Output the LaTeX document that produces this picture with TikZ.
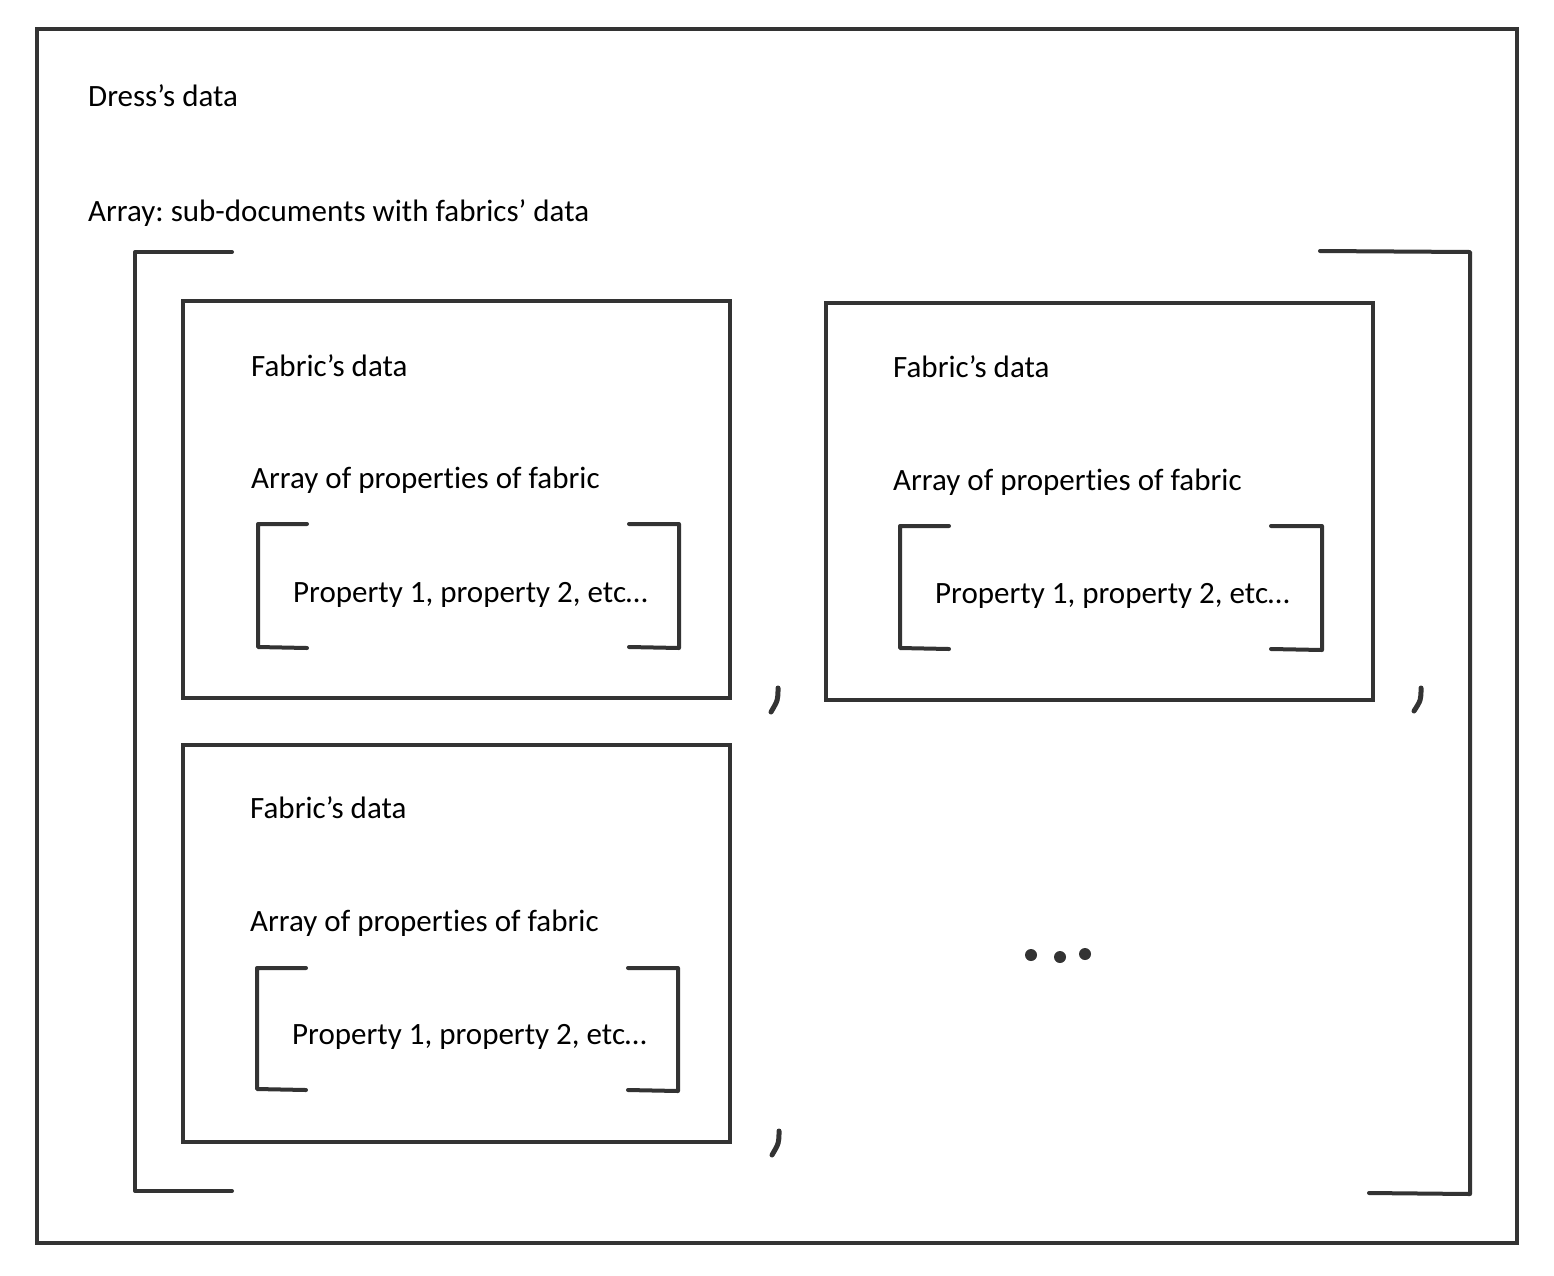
\documentclass[tikz,border=0pt]{standalone}
\usepackage{fontspec}
\setmainfont[Ligatures={NoCommon,NoContextual}]{Carlito}
\usetikzlibrary{positioning}
\definecolor{pen}{HTML}{333333}
\frenchspacing
\tikzset{
  outerbox/.style  = {draw=pen, line width=4pt, inner sep=0pt},
  fabricbox/.style = {draw=pen, line width=4pt, inner sep=0pt,
                      minimum width=547pt, minimum height=397pt},
  txt/.style       = {inner sep=0pt, anchor=base west, text=black,
                      font=\fontsize{31}{37}\selectfont},
  bracket/.style   = {draw=pen, line width=4pt, line cap=round, line join=round},
  comma/.style     = {draw=pen, line width=5pt, line cap=round},
}

\begin{document}
\begin{tikzpicture}[x=1pt,y=-1pt]
  \useasboundingbox (0,0) rectangle (1554,1275);

  %dress document
  \node[outerbox, minimum width=1480pt, minimum height=1214pt] (dress) at (777,636) {};
  \node[txt] (dresstitle) at (88,106) {Dress’s data};
  \node[txt] (arraytitle) at (88,221) {Array: sub-documents with fabrics’ data};

  %big array brackets
  \draw[bracket] (232,252) -- (135,252) -- (135,1191) -- (232,1191);
  \draw[bracket] (1320,251) -- (1470,252) -- (1470,1194) -- (1369,1193);

  %fabric 1
  \node[fabricbox] (fabric1) at (456.5,499.5) {};
  \node[txt] (fabric1title) at (251,376) {Fabric’s data};
  \node[txt] (fabric1array) at (251,488) {Array of proper\-ties of fabric};
  \node[txt] (fabric1props) at (293,602) {Property 1, property 2, etc…};
  \draw[bracket] (307,524) -- (258,524) -- (258,647) -- (307,648);
  \draw[bracket] (629,524) -- (679,524) -- (679,648) -- (629,647);

  %fabric 2
  \node[fabricbox] (fabric2) at (1099.5,501) {};
  \node[txt] (fabric2title) at (893,377) {Fabric’s data};
  \node[txt] (fabric2array) at (893,490) {Array of proper\-ties of fabric};
  \node[txt] (fabric2props) at (935,603) {Property 1, property 2, etc…};
  \draw[bracket] (949,526) -- (900,526) -- (900,648) -- (949,649);
  \draw[bracket] (1271,526) -- (1322,526) -- (1322,650) -- (1271,649);

  %fabric 3
  \node[fabricbox] (fabric3) at (456,943) {};
  \node[txt] (fabric3title) at (250,818) {Fabric’s data};
  \node[txt] (fabric3array) at (250,931) {Array of proper\-ties of fabric};
  \node[txt] (fabric3props) at (292,1044) {Property 1, property 2, etc…};
  \draw[bracket] (306,968) -- (257,968) -- (257,1089) -- (306,1090);
  \draw[bracket] (628,968) -- (678,968) -- (678,1091) -- (628,1090);

  %commas and dots
  \draw[comma] (778,688) .. controls (778,700) .. (771,712);
  \draw[comma] (1421,688) .. controls (1421,700) .. (1414,711);
  \draw[comma] (779,1131) .. controls (779,1143) .. (772,1155);
  \fill[pen] (1031,955) circle (6) (1060,957) circle (6) (1085,954) circle (6);
\end{tikzpicture}
\end{document}
